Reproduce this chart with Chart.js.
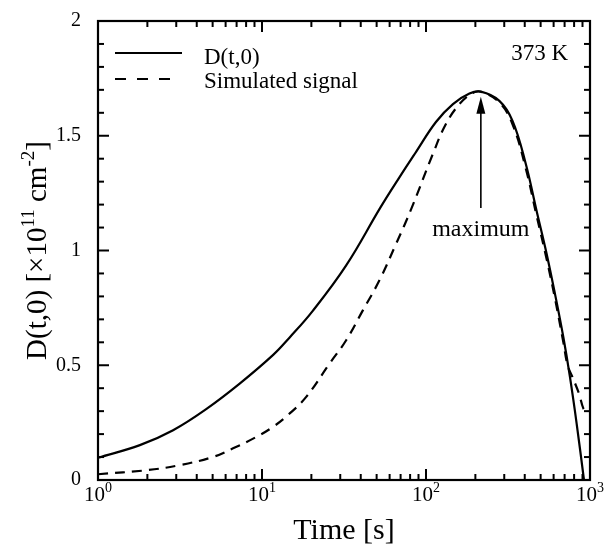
<!DOCTYPE html>
<html>
<head>
<meta charset="utf-8">
<script src="https://cdn.jsdelivr.net/npm/chart.js@4"></script>
<style>
  body { margin: 0; background: #fff; }
  canvas { display: block; }
</style>
</head>
<body>
<canvas id="grafico" width="613" height="547"></canvas>
<script>
// D(t,0) curve
const solidT = [1, 1.8, 2.87, 4.59, 7.31, 11.7, 14.7, 20.4, 32.6, 53, 69, 87, 115, 146, 184, 216, 280, 337, 405, 473, 545, 612, 688, 755, 829, 919];
const solidD = [0.097, 0.152, 0.217, 0.31, 0.42, 0.545, 0.62, 0.737, 0.935, 1.19, 1.32, 1.43, 1.56, 1.638, 1.684, 1.692, 1.652, 1.565, 1.38, 1.171, 0.983, 0.81, 0.622, 0.448, 0.246, 0];
// simulated signal
const simT = [1, 2, 3.16, 5, 6.66, 9.25, 11.7, 14.4, 18.6, 25.8, 32.6, 41.2, 52, 65.8, 81.2, 110, 132, 160, 192, 216, 280, 337, 405, 473, 545, 612, 688, 730, 780, 857, 912, 950];
const simD = [0.025, 0.043, 0.065, 0.10, 0.138, 0.188, 0.232, 0.283, 0.362, 0.507, 0.609, 0.739, 0.87, 1.03, 1.18, 1.42, 1.55, 1.638, 1.686, 1.692, 1.645, 1.55, 1.36, 1.15, 0.96, 0.79, 0.60, 0.50, 0.45, 0.376, 0.311, 0.30];
const yTicks = [0, 0.5, 1, 1.5, 2];
const xDecades = [0, 1, 2, 3];
const peakT = 216;

const FONT = "'Liberation Serif', 'Times New Roman', serif";
const pares = (ts, ds) => ts.map((t, i) => ({ x: t, y: ds[i] }));

function linha(ctx, x1, y1, x2, y2) {
    ctx.beginPath();
    ctx.moveTo(x1, y1);
    ctx.lineTo(x2, y2);
    ctx.stroke();
}

// draws text parts [text, size, raise] left to right starting at x
function textoRico(ctx, parts, x, y) {
    let cx = x;
    for (const [t, size, raise] of parts) {
        ctx.font = size + "px " + FONT;
        ctx.fillText(t, cx, y - raise);
        cx += ctx.measureText(t).width;
    }
}
function larguraRica(ctx, parts) {
    let w = 0;
    for (const [t, size] of parts) {
        ctx.font = size + "px " + FONT;
        w += ctx.measureText(t).width;
    }
    return w;
}

const moldura = {
    id: "moldura",
    afterDraw(chart) {
        const { ctx, chartArea: a, scales: { x, y } } = chart;
        ctx.save();
        ctx.strokeStyle = "#000";
        ctx.fillStyle = "#000";
        ctx.lineWidth = 2.2;
        ctx.setLineDash([]);
        ctx.strokeRect(a.left, a.top, a.right - a.left, a.bottom - a.top);

        // y ticks, inside, both sides
        ctx.lineWidth = 2;
        for (let i = 0; i <= 20; i++) {
            const py = y.getPixelForValue(i / 10);
            const len = i % 5 === 0 ? 11 : 6;
            linha(ctx, a.left, py, a.left + len, py);
            linha(ctx, a.right, py, a.right - len, py);
        }
        // x ticks, inside, top and bottom
        for (let d = 0; d < 3; d++) {
            for (let m = 1; m <= 9; m++) {
                const px = x.getPixelForValue(m * Math.pow(10, d));
                const len = m === 1 ? 11 : 6;
                linha(ctx, px, a.bottom, px, a.bottom - len);
                linha(ctx, px, a.top, px, a.top + len);
            }
        }

        // x tick labels 10^n
        ctx.textAlign = "left";
        ctx.textBaseline = "alphabetic";
        for (const d of xDecades) {
            const px = x.getPixelForValue(Math.pow(10, d));
            const parts = [["10", 21, 0], [String(d), 14, 9]];
            const w = larguraRica(ctx, parts);
            textoRico(ctx, parts, px - w / 2, a.bottom + 21);
        }

        // x title
        ctx.font = "30px " + FONT;
        ctx.textAlign = "center";
        ctx.fillText("Time [s]", (a.left + a.right) / 2, 539);

        // y title
        ctx.save();
        ctx.translate(46, (a.top + a.bottom) / 2);
        ctx.rotate(-Math.PI / 2);
        ctx.textAlign = "left";
        const tituloY = [["D(t,0) [\u00d710", 29, 0], ["11", 19, 12], [" cm", 29, 0], ["-2", 19, 12], ["]", 29, 0]];
        textoRico(ctx, tituloY, -larguraRica(ctx, tituloY) / 2, 0);
        ctx.restore();

        // legend
        const ds = chart.data.datasets;
        ctx.lineWidth = 2;
        ctx.setLineDash([]);
        linha(ctx, a.left + 17, a.top + 32, a.left + 84, a.top + 32);
        ctx.setLineDash([11, 11]);
        linha(ctx, a.left + 17, a.top + 58, a.left + 74, a.top + 58);
        ctx.setLineDash([]);
        ctx.font = "23px " + FONT;
        ctx.textAlign = "left";
        ctx.fillText(ds[0].label, a.left + 106, a.top + 43);
        ctx.fillText(ds[1].label, a.left + 106, a.top + 67);

        // temperature
        ctx.textAlign = "right";
        ctx.fillText("373 K", a.right - 22, a.top + 39);

        // arrow to the maximum
        const ax = x.getPixelForValue(peakT);
        const yTip = y.getPixelForValue(1.67);
        const yBase = y.getPixelForValue(1.185);
        ctx.lineWidth = 1.6;
        linha(ctx, ax, yBase, ax, yTip + 14);
        ctx.beginPath();
        ctx.moveTo(ax, yTip);
        ctx.lineTo(ax - 4.5, yTip + 17);
        ctx.lineTo(ax + 4.5, yTip + 17);
        ctx.closePath();
        ctx.fill();
        ctx.font = "24px " + FONT;
        ctx.textAlign = "center";
        ctx.fillText("maximum", ax, y.getPixelForValue(1.065));
        ctx.restore();
    }
};

const ctx = document.getElementById("grafico").getContext("2d");
const grafico = new Chart(ctx, {
    type: "line",
    data: {
        datasets: [{
            label: "D(t,0)",
            data: pares(solidT, solidD),
            borderColor: "#000",
            borderWidth: 2.2,
            pointRadius: 0,
            tension: 0.4,
            fill: false
        }, {
            label: "Simulated signal",
            data: pares(simT, simD),
            borderColor: "#000",
            borderWidth: 2.2,
            borderDash: [10, 7],
            pointRadius: 0,
            tension: 0.4,
            fill: false
        }]
    },
    options: {
        responsive: false,
        animation: false,
        devicePixelRatio: 1,
        layout: { padding: { top: 19, right: 23, left: 0, bottom: 0 } },
        plugins: {
            legend: { display: false },
            tooltip: { enabled: false }
        },
        scales: {
            x: {
                type: "logarithmic",
                min: 1,
                max: 1000,
                grid: { display: false },
                border: { display: false },
                ticks: { display: false },
                afterFit: (s) => { s.height = 67; }
            },
            y: {
                min: 0,
                max: 2,
                grid: { display: false },
                border: { display: false },
                afterBuildTicks: (s) => { s.ticks = yTicks.map(v => ({ value: v })); },
                ticks: {
                    color: "#000",
                    padding: 9,
                    font: { family: FONT, size: 20 },
                    callback: (v) => String(v)
                },
                afterFit: (s) => { s.width = 98; }
            }
        }
    },
    plugins: [moldura]
});
</script>
</body>
</html>
